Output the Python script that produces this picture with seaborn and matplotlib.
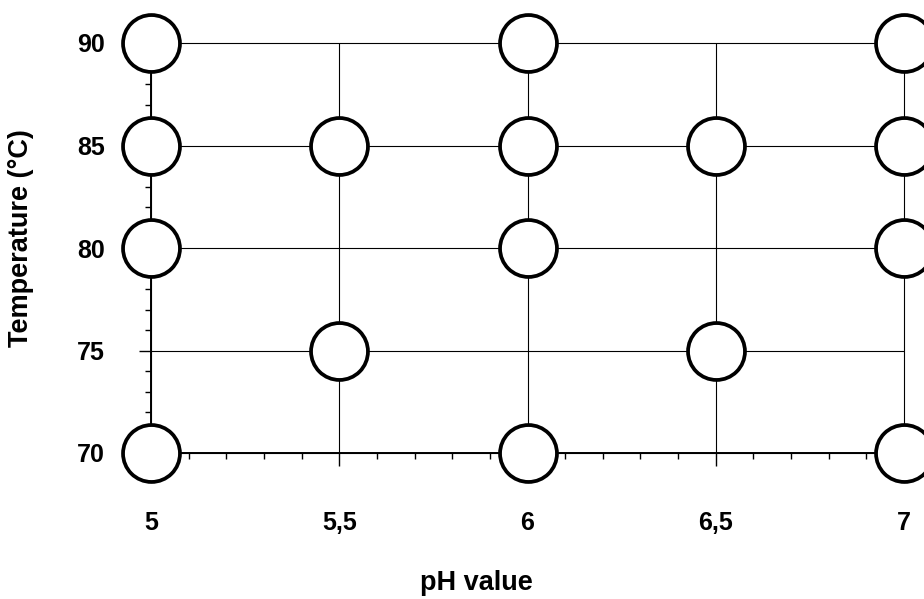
import matplotlib
matplotlib.use("Agg")
import matplotlib.pyplot as plt
import seaborn as sns
import pandas as pd
from matplotlib.ticker import MultipleLocator

ph = [5, 6, 7, 5, 5.5, 6, 6.5, 7, 5, 6, 7, 5.5, 6.5, 5, 6, 7]
temp = [90, 90, 90, 85, 85, 85, 85, 85, 80, 80, 80, 75, 75, 70, 70, 70]
x_ticks = [5, 5.5, 6, 6.5, 7]
x_labels = ["5", "5,5", "6", "6,5", "7"]
y_ticks = [70, 75, 80, 85, 90]
y_labels = ["70", "75", "80", "85", "90"]

df = pd.DataFrame({"pH": ph, "T": temp})

sns.set_theme(style="white")
plt.rcParams['font.family'] = ['Liberation Sans', 'DejaVu Sans']

fig = plt.figure(figsize=(9.24, 5.99), dpi=100)
ax = fig.add_axes([151/924, 1-453/599, 753/924, 410/599])

ax.set_xlim(5, 7)
ax.set_ylim(70, 90)
ax.set_xticks(x_ticks)
ax.set_xticklabels(x_labels)
ax.set_yticks(y_ticks)
ax.set_yticklabels(y_labels)
ax.xaxis.set_minor_locator(MultipleLocator(0.1))
ax.yaxis.set_minor_locator(MultipleLocator(1))

ax.grid(True, which="major", color="black", linewidth=0.8, zorder=1)
ax.set_axisbelow(True)
for gl in ax.get_xgridlines() + ax.get_ygridlines():
    gl.set_clip_on(False)

for s in ["top", "right"]:
    ax.spines[s].set_visible(False)
for s in ["left", "bottom"]:
    ax.spines[s].set_color("black")
    ax.spines[s].set_linewidth(1.4)
    ax.spines[s].set_zorder(2)

ax.tick_params(axis="both", which="major", direction="out", length=9, width=1,
               color="black", labelsize=18, bottom=True, left=True)
ax.tick_params(axis="both", which="minor", direction="out", length=4, width=1,
               color="black", bottom=True, left=True)
ax.tick_params(axis="x", which="major", pad=33)
ax.tick_params(axis="y", which="major", pad=24)
for lab in ax.get_xticklabels() + ax.get_yticklabels():
    lab.set_fontweight("bold")
    lab.set_color("black")

sns.scatterplot(data=df, x="pH", y="T", ax=ax, s=1680, color="white",
                edgecolor="black", linewidth=2.7, zorder=5, clip_on=False,
                legend=False)

ax.set_xlabel("pH value", fontsize=19.5, fontweight="bold", color="black")
ax.set_ylabel("Temperature (°C)", fontsize=19.5, fontweight="bold", color="black")
ax.xaxis.set_label_coords((476-151)/753, (453-570)/410)
ax.yaxis.set_label_coords((34-151)/753, (453-238)/410)

fig.savefig("out.png", dpi=100)
